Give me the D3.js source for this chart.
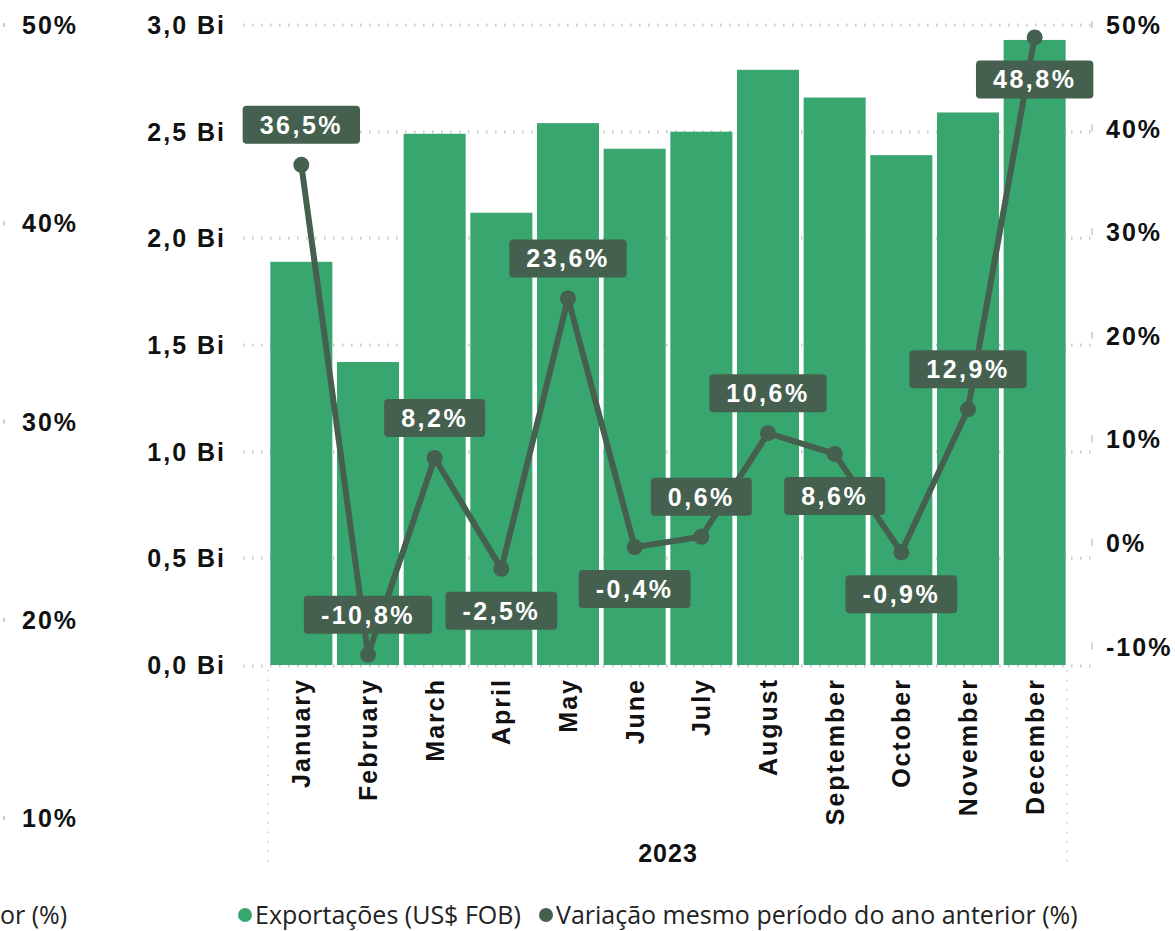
<!DOCTYPE html>
<html lang="pt">
<head>
<meta charset="utf-8">
<script src="https://cdn.jsdelivr.net/npm/d3@7"></script>
<style>
  body { margin: 0; background: #fff; }
  .axis-lbl { font-family: "Liberation Sans", Arial, sans-serif; font-weight: bold; font-size: 25px; letter-spacing: 2px; fill: #111; }
  .box-lbl { font-family: "Liberation Sans", Arial, sans-serif; font-weight: bold; font-size: 25px; letter-spacing: 2.5px; fill: #fff; }
  .legend { font-family: "Open Sans", "Noto Sans", sans-serif; font-size: 25px; fill: #222; }
</style>
</head>
<body>
<script type="text/javascript">

    // dados
    var months = ["January", "February", "March", "April", "May", "June",
                  "July", "August", "September", "October", "November", "December"];
    var exportsBi = [1.89, 1.42, 2.49, 2.12, 2.54, 2.42, 2.50, 2.79, 2.66, 2.39, 2.59, 2.93];
    var variation = [36.5, -10.8, 8.2, -2.5, 23.6, -0.4, 0.6, 10.6, 8.6, -0.9, 12.9, 48.8];
    var labelSide = ["up", "up", "up", "down", "up", "down", "up", "up", "down", "down", "up", "down"];
    var biTicks = [0, 0.5, 1.0, 1.5, 2.0, 2.5, 3.0];
    var pctTicks = [-10, 0, 10, 20, 30, 40, 50];
    var ghostTicks = [10, 20, 30, 40, 50];
    var xTitle = "2023";
    var legendItems = ["Exportações (US$ FOB)", "Variação mesmo período do ano anterior (%)"];

    var W = 1175, H = 931;
    var barColor = "#38a66f";
    var lineColor = "#46604f";
    var gridColor = "#c9c9c9";

    var svg = d3.select("body").append("svg")
            .attr("width", W)
            .attr("height", H);

    var plot = {left: 268, right: 1068, top: 25, bottom: 665};

    var x = d3.scaleBand()
            .domain(months)
            .range([plot.left, plot.right])
            .paddingInner(0.07)
            .paddingOuter(0.035);

    var y = d3.scaleLinear()
            .domain([0, 3.0])
            .range([plot.bottom, plot.top]);

    var y2 = d3.scaleLinear()
            .domain([-11.78, 50])
            .range([plot.bottom, plot.top]);

    // eixo fantasma (grafico cortado a esquerda)
    var yGhost = d3.scaleLinear()
            .domain([10, 50])
            .range([818, 25]);

    var fmtBi = function(d) { return d3.format(".1f")(d).replace(".", ",") + " Bi"; };
    var fmtPct = function(d) { return d3.format(".1f")(d).replace(".", ",").replace("\u2212", "-") + "%"; };

    /* grid */
    svg.append("g")
            .selectAll("line")
            .data(biTicks)
            .enter()
            .append("line")
            .attr("x1", 243)
            .attr("x2", 1093)
            .attr("y1", function(d) { return y(d) + (d === 0 ? 1 : 0); })
            .attr("y2", function(d) { return y(d) + (d === 0 ? 1 : 0); })
            .style("stroke", gridColor)
            .style("stroke-width", 3)
            .style("stroke-dasharray", "1.5,7.5");

    // pequenas marcas do eixo direito
    svg.append("g")
            .selectAll("line")
            .data(pctTicks)
            .enter()
            .append("line")
            .attr("x1", 1092)
            .attr("x2", 1092)
            .attr("y1", function(d) { return y2(d) - 4; })
            .attr("y2", function(d) { return y2(d) + 3; })
            .style("stroke", gridColor)
            .style("stroke-width", 1.5);

    // linhas verticais pontilhadas das categorias
    svg.append("g")
            .selectAll("line")
            .data([plot.left, plot.right - 1])
            .enter()
            .append("line")
            .attr("x1", function(d) { return d; })
            .attr("x2", function(d) { return d; })
            .attr("y1", 670)
            .attr("y2", 868)
            .style("stroke", gridColor)
            .style("stroke-width", 1.5)
            .style("stroke-dasharray", "1.5,8");

    /* barras */
    svg.append("g")
            .selectAll("rect")
            .data(exportsBi)
            .enter()
            .append("rect")
            .attr("x", function(d, i) { return x(months[i]); })
            .attr("y", function(d) { return y(d); })
            .attr("width", x.bandwidth())
            .attr("height", function(d) { return y(0) - y(d); })
            .style("fill", barColor);

    /* eixo esquerdo */
    svg.append("g")
            .selectAll("text")
            .data(biTicks)
            .enter()
            .append("text")
            .attr("class", "axis-lbl")
            .attr("x", 226)
            .attr("y", function(d) { return y(d); })
            .attr("dy", "0.36em")
            .attr("text-anchor", "end")
            .text(fmtBi);

    /* eixo direito */
    svg.append("g")
            .selectAll("text")
            .data(pctTicks)
            .enter()
            .append("text")
            .attr("class", "axis-lbl")
            .attr("x", 1106)
            .attr("y", function(d) { return y2(d); })
            .attr("dy", "0.36em")
            .text(function(d) { return d + "%"; });

    /* eixo fantasma */
    var ghost = svg.append("g");
    ghost.selectAll("text")
            .data(ghostTicks)
            .enter()
            .append("text")
            .attr("class", "axis-lbl")
            .attr("x", 22)
            .attr("y", function(d) { return yGhost(d); })
            .attr("dy", "0.36em")
            .text(function(d) { return d + "%"; });
    ghost.selectAll("rect")
            .data(ghostTicks)
            .enter()
            .append("rect")
            .attr("x", 3)
            .attr("y", function(d) { return yGhost(d) - 2; })
            .attr("width", 2)
            .attr("height", 4)
            .style("fill", gridColor);

    /* rotulos do eixo x */
    svg.append("g")
            .selectAll("text")
            .data(months)
            .enter()
            .append("text")
            .attr("class", "axis-lbl")
            .attr("text-anchor", "end")
            .attr("transform", function(d) {
                return "translate(" + (x(d) + x.bandwidth() / 2) + ",678) rotate(-90)";
            })
            .attr("dy", "0.36em")
            .text(function(d) { return d; });

    svg.append("text")
            .attr("class", "axis-lbl")
            .style("letter-spacing", "1px")
            .attr("x", (plot.left + plot.right) / 2)
            .attr("y", 862)
            .attr("text-anchor", "middle")
            .text(xTitle);

    /* linha */
    var line = d3.line()
            .x(function(d, i) { return x(months[i]) + x.bandwidth() / 2; })
            .y(function(d) { return y2(d); });

    svg.append("path")
            .datum(variation)
            .attr("d", line)
            .style("fill", "none")
            .style("stroke", lineColor)
            .style("stroke-width", 6)
            .style("stroke-linejoin", "round");

    svg.append("g")
            .selectAll("circle")
            .data(variation)
            .enter()
            .append("circle")
            .attr("cx", function(d, i) { return x(months[i]) + x.bandwidth() / 2; })
            .attr("cy", function(d) { return y2(d); })
            .attr("r", 8)
            .style("fill", lineColor);

    /* rotulos de dados */
    var labels = svg.append("g")
            .selectAll("g")
            .data(variation)
            .enter()
            .append("g")
            .attr("transform", function(d, i) {
                var cy = y2(d) + (labelSide[i] === "up" ? -40 : 42);
                return "translate(" + (x(months[i]) + x.bandwidth() / 2) + "," + cy + ")";
            });

    labels.append("text")
            .attr("class", "box-lbl")
            .attr("text-anchor", "middle")
            .attr("dy", "0.36em")
            .text(fmtPct);

    labels.each(function() {
        var g = d3.select(this);
        var bb = g.select("text").node().getBBox();
        g.insert("rect", "text")
                .attr("x", -bb.width / 2 - 17)
                .attr("y", -19)
                .attr("width", bb.width + 34)
                .attr("height", 38)
                .attr("rx", 4)
                .style("fill", lineColor);
    });

    /* legenda */
    var legend = svg.append("g");
    legend.append("text")
            .attr("class", "legend")
            .attr("x", 0)
            .attr("y", 924)
            .text("or (%)");

    var lx = [245, 546];
    var lc = [barColor, lineColor];
    legendItems.forEach(function(t, i) {
        legend.append("circle")
                .attr("cx", lx[i])
                .attr("cy", 915)
                .attr("r", 7)
                .style("fill", lc[i]);
        legend.append("text")
                .attr("class", "legend")
                .attr("x", lx[i] + 10)
                .attr("y", 924)
                .text(t);
    });

</script>
</body>
</html>
